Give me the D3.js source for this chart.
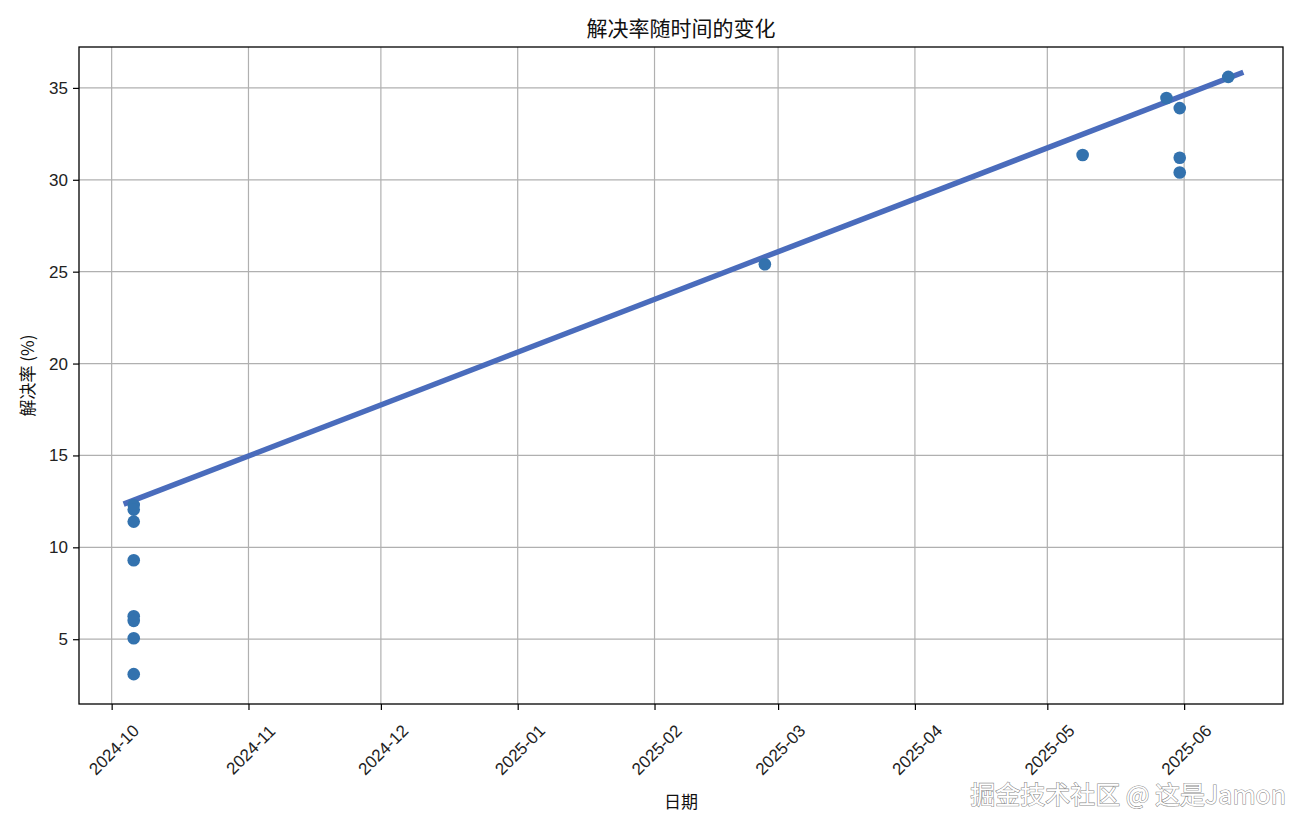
<!DOCTYPE html>
<html>
<head>
<meta charset="utf-8">
<script src="https://cdn.jsdelivr.net/npm/d3@7"></script>
<style>
body { margin: 0; background: #fff; }
text { font-family: "Liberation Sans", Arial, "Noto Sans CJK SC", sans-serif; }
.cjk { font-family: "Noto Sans CJK SC", "Liberation Sans", sans-serif; }
</style>
</head>
<body>
<script>
// DATA
const pointDates = [
  "2024-10-06", "2024-10-06", "2024-10-06", "2024-10-06",
  "2024-10-06", "2024-10-06", "2024-10-06", "2024-10-06",
  "2025-02-26", "2025-05-09", "2025-05-28",
  "2025-05-31", "2025-05-31", "2025-05-31", "2025-06-11"
];
const pointRates = [
  12.3, 12.05, 11.4, 9.3,
  6.25, 6.0, 5.05, 3.1,
  25.4, 31.35, 34.45,
  33.9, 31.2, 30.4, 35.6
];
const trendDates = ["2024-10-03 17:00", "2025-06-14 10:00"];
const trendRates = [12.35, 35.85];
const xTicks = ["2024-10", "2024-11", "2024-12", "2025-01", "2025-02",
                "2025-03", "2025-04", "2025-05", "2025-06"];
const yTicks = [5, 10, 15, 20, 25, 30, 35];

const parseDay = d3.timeParse("%Y-%m-%d");
const parseHour = d3.timeParse("%Y-%m-%d %H:%M");
const parseMonth = d3.timeParse("%Y-%m");

const width = 1310, height = 832;
const margin = { top: 47, right: 27, bottom: 128, left: 79 };
const plotW = width - margin.left - margin.right;
const plotH = height - margin.top - margin.bottom;

const svg = d3.select("body").append("svg")
  .attr("width", width).attr("height", height);

// SCALES (5% padding like matplotlib)
const xData = pointDates.map(parseDay);
const xMin = d3.min(xData), xMax = d3.max(xData);
const xPad = (xMax - xMin) * 0.05;
const X = d3.scaleTime()
  .domain([new Date(+xMin - xPad), new Date(+xMax + xPad)])
  .range([0, plotW]);

const yMin = d3.min(pointRates), yMax = d3.max(pointRates);
const yPad = (yMax - yMin) * 0.05;
const Y = d3.scaleLinear()
  .domain([yMin - yPad, yMax + yPad])
  .range([plotH, 0]);

const g = svg.append("g")
  .attr("transform", `translate(${margin.left},${margin.top})`);

// GRID
const xTickDates = xTicks.map(parseMonth);
g.append("g").selectAll("line").data(xTickDates).enter().append("line")
  .attr("x1", d => X(d)).attr("x2", d => X(d))
  .attr("y1", 0).attr("y2", plotH)
  .attr("stroke", "#b0b0b0").attr("stroke-width", 1.2);
g.append("g").selectAll("line").data(yTicks).enter().append("line")
  .attr("x1", 0).attr("x2", plotW)
  .attr("y1", d => Y(d)).attr("y2", d => Y(d))
  .attr("stroke", "#b0b0b0").attr("stroke-width", 1.2);

// AXES
const xAxis = g.append("g")
  .attr("transform", `translate(0,${plotH})`)
  .call(d3.axisBottom(X).tickValues(xTickDates)
    .tickFormat(d3.timeFormat("%Y-%m")).tickSize(6).tickPadding(4));
xAxis.select(".domain").remove();
xAxis.selectAll("line").attr("stroke", "#000").attr("stroke-width", 1.2);
xAxis.selectAll("text")
  .attr("font-size", 17).attr("fill", "#222")
  .attr("text-anchor", "middle")
  .attr("dy", null)
  .attr("y", 46)
  .attr("x", 2)
  .attr("dominant-baseline", "central")
  .attr("transform", "rotate(-45, 2, 46)");

const yAxis = g.append("g")
  .call(d3.axisLeft(Y).tickValues(yTicks).tickSize(6).tickPadding(5));
yAxis.select(".domain").remove();
yAxis.selectAll("line").attr("stroke", "#000").attr("stroke-width", 1.2);
yAxis.selectAll("text").attr("font-size", 17).attr("fill", "#222");

// TREND LINE
const trend = trendDates.map((d, i) => ({ x: parseHour(d), y: trendRates[i] }));
g.append("path")
  .datum(trend)
  .attr("d", d3.line().x(d => X(d.x)).y(d => Y(d.y)))
  .attr("stroke", "#4a6cbc").attr("stroke-width", 5.5).attr("fill", "none");

// POINTS
g.append("g").selectAll("circle")
  .data(pointDates.map((d, i) => ({ x: parseDay(d), y: pointRates[i] })))
  .enter().append("circle")
  .attr("cx", d => X(d.x)).attr("cy", d => Y(d.y))
  .attr("r", 6.3).attr("fill", "#3372ae");

// FRAME
g.append("rect")
  .attr("width", plotW).attr("height", plotH)
  .attr("fill", "none").attr("stroke", "#000").attr("stroke-width", 1.3);

// TITLES
svg.append("text").attr("class", "cjk")
  .attr("x", margin.left + plotW / 2).attr("y", 36)
  .attr("text-anchor", "middle").attr("font-size", 21).attr("fill", "#111")
  .text("解决率随时间的变化");
svg.append("text").attr("class", "cjk")
  .attr("x", margin.left + plotW / 2).attr("y", 808)
  .attr("text-anchor", "middle").attr("font-size", 17).attr("fill", "#111")
  .text("日期");
svg.append("text").attr("class", "cjk")
  .attr("transform", `translate(34,${margin.top + plotH / 2}) rotate(-90)`)
  .attr("text-anchor", "middle").attr("font-size", 17).attr("fill", "#111")
  .text("解决率 (%)");

// WATERMARK
svg.append("text").attr("class", "cjk")
  .attr("x", 1286).attr("y", 804)
  .attr("text-anchor", "end").attr("font-size", 25)
  .attr("fill", "#fff").attr("stroke", "#8a8a8a").attr("stroke-width", 1.1)
  .attr("paint-order", "stroke")
  .text("掘金技术社区 @ 这是Jamon");
</script>
</body>
</html>
